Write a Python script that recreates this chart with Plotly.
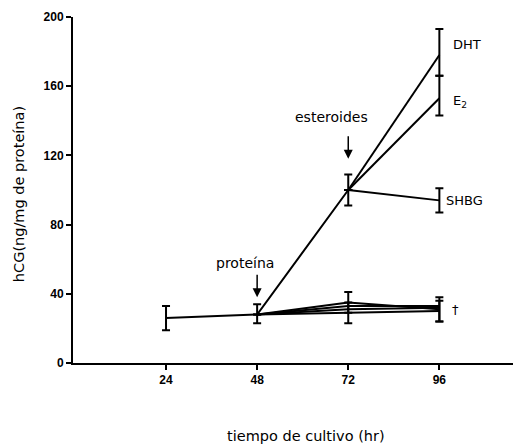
import plotly.graph_objects as go

# Data
base_x = [24, 48, 72]
base_y = [26, 28, 100]
base_err_up = [7, 6, 9]
base_err_dn = [7, 5, 9]

steroid_x = [72, 96]
dht_y = [100, 178]
e2_y = [100, 153]
shbg_y = [100, 94]
dht_err_up = [0, 15]
dht_err_dn = [0, 12]
e2_err_up = [0, 13]
e2_err_dn = [0, 10]
shbg_err_up = [0, 7]
shbg_err_dn = [0, 7]

ctrl_x = [48, 72, 96]
ctrl_a = [28, 35, 31]
ctrl_b = [28, 33, 33]
ctrl_c = [28, 31, 32]
ctrl_d = [28, 29, 30]
ctrl_a_err = [0, 6, 7]
ctrl_d_err = [0, 6, 6]

x_ticks = [24, 48, 72, 96]
y_ticks = [0, 40, 80, 120, 160, 200]

line = dict(color="black", width=2)
fig = go.Figure()

def add(x, y, up=None, dn=None):
    kw = {}
    if up is not None:
        kw["error_y"] = dict(type="data", symmetric=False, array=up, arrayminus=dn,
                             color="black", thickness=2, width=4)
    fig.add_trace(go.Scatter(x=x, y=y, mode="lines", line=line, showlegend=False, **kw))

add(base_x, base_y, base_err_up, base_err_dn)
add(steroid_x, dht_y, dht_err_up, dht_err_dn)
add(steroid_x, e2_y, e2_err_up, e2_err_dn)
add(steroid_x, shbg_y, shbg_err_up, shbg_err_dn)
add(ctrl_x, ctrl_a, ctrl_a_err, ctrl_a_err)
add(ctrl_x, ctrl_b)
add(ctrl_x, ctrl_c)
add(ctrl_x, ctrl_d, ctrl_d_err, ctrl_d_err)

font = dict(family="DejaVu Sans, sans-serif", size=13, color="black")
font14 = dict(family="DejaVu Sans, sans-serif", size=14, color="black")

def label(x, y, text, xshift=0):
    fig.add_annotation(x=x, y=y, text=text, showarrow=False, xanchor="left",
                       xshift=xshift, font=font)

label(96, 184, "DHT", 12)
label(96, 151, "E<sub>2</sub>", 12)
label(96, 94, "SHBG", 5)
label(96, 31, "†", 11)

# arrow labels
fig.add_annotation(x=48, y=58, text="proteína", showarrow=False, xshift=-12, font=font14)
fig.add_annotation(x=48, y=38, text="", showarrow=True, ax=0, ay=-24,
                   arrowhead=2, arrowsize=1.2, arrowwidth=1.5, arrowcolor="black")
fig.add_annotation(x=72, y=142, text="esteroides", showarrow=False, xshift=-17, font=font14)
fig.add_annotation(x=72, y=118, text="", showarrow=True, ax=0, ay=-24,
                   arrowhead=2, arrowsize=1.2, arrowwidth=1.5, arrowcolor="black")

# axis titles
title_font = dict(family="DejaVu Sans, sans-serif", size=14.5, color="black")
fig.add_annotation(xref="paper", yref="paper", x=-0.1205, y=0.488, textangle=-90,
                   xanchor="center", yanchor="middle",
                   text="hCG(ng/mg de proteína)", showarrow=False, font=title_font)
fig.add_annotation(xref="paper", yref="paper", x=0.52, y=-0.211,
                   xanchor="center", yanchor="middle",
                   text="tiempo de cultivo (hr)", showarrow=False, font=title_font)

tickfont = dict(family="Liberation Sans, Arial, sans-serif", size=12, color="black", weight="bold")

fig.update_layout(
    width=513, height=437,
    margin=dict(l=65, r=0, t=9, b=82),
    plot_bgcolor="white", paper_bgcolor="white",
    font=font,
    xaxis=dict(range=[-0.5, 117.5], tickvals=x_ticks, showgrid=False, zeroline=False,
               showline=True, linecolor="black", linewidth=2, ticks="outside",
               ticklen=5, tickwidth=2, tickcolor="black", automargin=False,
               tickfont=tickfont),
    yaxis=dict(range=[0, 200], tickvals=y_ticks, showgrid=False, zeroline=False,
               showline=True, linecolor="black", linewidth=2, ticks="outside",
               ticklen=5, tickwidth=2, tickcolor="black", automargin=False,
               tickfont=tickfont),
)

fig.write_html("out.html")
